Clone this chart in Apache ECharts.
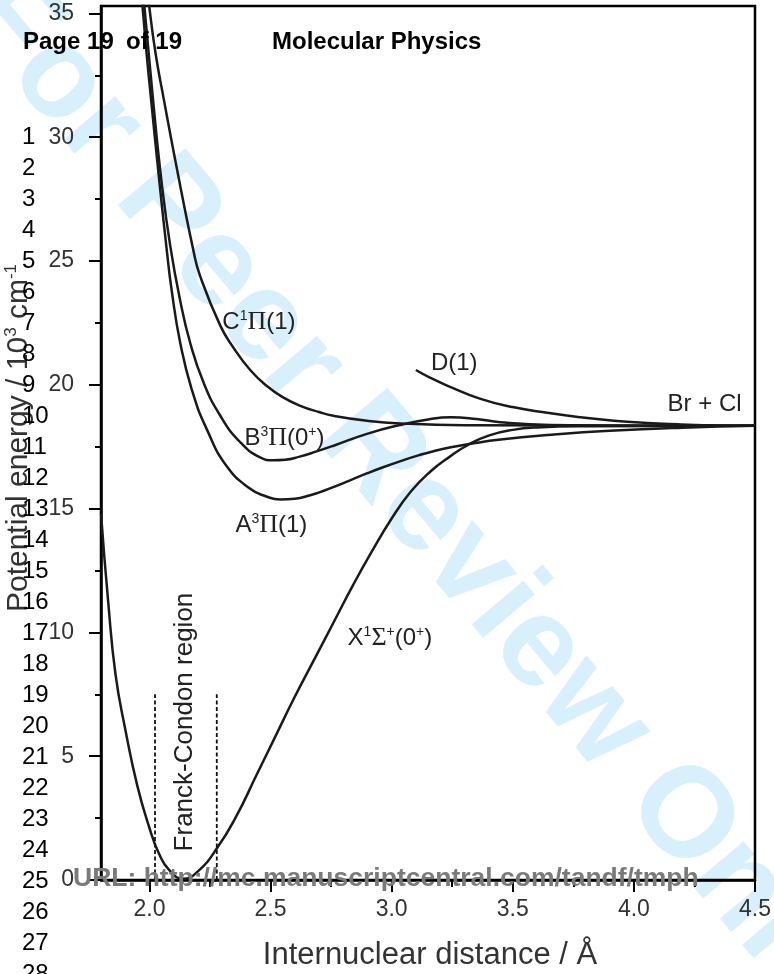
<!DOCTYPE html>
<html><head><meta charset="utf-8">
<script src="https://cdn.jsdelivr.net/npm/echarts@6/dist/echarts.min.js"></script>
<style>html,body{margin:0;padding:0;background:#fff}#c{width:774px;height:974px}</style>
</head><body><div id="c"></div>
<script>
// ---- axis ticks ----
const xTickValues = [2.0, 2.5, 3.0, 3.5, 4.0, 4.5];
const xMinorValues = [2.25, 2.75, 3.25, 3.75, 4.25];
const yTickValues = [0, 5, 10, 15, 20, 25, 30, 35];
const yMinorValues = [2.5, 7.5, 12.5, 17.5, 22.5, 27.5, 32.5];

// ---- potential curves (r in Angstrom, E in 10^3 cm^-1) ----
const xStateR = [1.800, 1.830, 1.860, 1.900, 1.950, 2.000, 2.040, 2.080, 2.140, 2.200, 2.280, 2.360, 2.440, 2.520, 2.600, 2.680, 2.760, 2.840, 2.920, 3.000, 3.080, 3.160, 3.240, 3.320, 3.400, 3.500, 3.600, 3.800, 4.500];
const xStateE = [14.8, 11.2, 8.3, 6.1, 3.8, 2.1, 1.05, 0.42, 0.05, 0.35, 1.3, 2.6, 4.2, 5.8, 7.4, 8.9, 10.4, 11.9, 13.3, 14.6, 15.7, 16.5, 17.1, 17.6, 17.95, 18.18, 18.28, 18.33, 18.35];

const aStateR = [1.960, 1.971, 1.988, 2.006, 2.040, 2.072, 2.092, 2.127, 2.175, 2.237, 2.320, 2.416, 2.480, 2.540, 2.600, 2.660, 2.720, 2.780, 2.840, 2.900, 2.970, 3.040, 3.110, 3.180, 3.250, 3.320, 3.450, 3.660, 3.900, 4.200, 4.500];
const aStateE = [36.3, 35.3, 33.4, 31.6, 28.3, 25.4, 23.8, 21.7, 19.8, 18.2, 16.7, 15.8, 15.5, 15.37, 15.4, 15.53, 15.72, 15.95, 16.19, 16.43, 16.69, 16.93, 17.15, 17.34, 17.49, 17.61, 17.79, 17.98, 18.14, 18.27, 18.35];

const bStateR = [1.968, 1.979, 2.014, 2.050, 2.086, 2.127, 2.168, 2.223, 2.292, 2.375, 2.457, 2.512, 2.560, 2.620, 2.690, 2.760, 2.898, 3.036, 3.150, 3.243, 3.350, 3.449, 3.656, 4.000, 4.500];
const bStateE = [36.3, 35.3, 31.6, 28.2, 25.6, 23.4, 21.7, 20.1, 18.76, 17.68, 17.07, 16.95, 16.97, 17.1, 17.31, 17.54, 18.02, 18.38, 18.6, 18.69, 18.62, 18.49, 18.38, 18.35, 18.35];

const cStateR = [1.990, 1.999, 2.025, 2.058, 2.110, 2.182, 2.209, 2.292, 2.347, 2.416, 2.485, 2.550, 2.623, 2.700, 2.760, 2.898, 3.036, 3.300, 4.500];
const cStateE = [36.2, 35.3, 33.4, 31.6, 28.9, 25.4, 24.4, 22.4, 21.5, 20.6, 19.95, 19.5, 19.15, 18.9, 18.75, 18.55, 18.44, 18.37, 18.35];

const dStateR = [3.100, 3.160, 3.229, 3.367, 3.505, 3.642, 3.780, 3.918, 4.056, 4.194, 4.350, 4.500];
const dStateE = [20.6, 20.28, 19.97, 19.43, 19.09, 18.87, 18.69, 18.55, 18.46, 18.40, 18.36, 18.35];

// Franck-Condon region boundaries
const fcR = [2.023, 2.278];
const fcE = [0, 7.5];

// ---- texts ----
const stateLabelTexts = [
  '{n|C}{s|1}{g|Π}{n|(1)}',
  '{n|B}{s|3}{g|Π}{n|(0}{s|+}{n|)}',
  '{n|A}{s|3}{g|Π}{n|(1)}',
  '{n|D(1)}',
  '{n|Br + Cl}',
  '{n|X}{s|1}{g|Σ}{s|+}{n|(0}{s|+}{n|)}'
];
const stateLabelAt = [[2.301, 22.53], [2.392, 17.84], [2.355, 14.33], [3.162, 20.87], [4.139, 19.22], [2.818, 9.77]];
const fcLabelText = 'Franck-Condon region';
const fcLabelAt = [2.148, 6.38];
const lineNumbers = [1,2,3,4,5,6,7,8,9,10,11,12,13,14,15,16,17,18,19,20,21,22,23,24,25,26,27,28];

const FONT = '"Liberation Sans", Arial, Helvetica, sans-serif';
const SERIF = '"Liberation Serif", "Times New Roman", serif';
const chart = echarts.init(document.getElementById('c'));

function pairs(r, e) { return r.map((v, i) => [v, e[i]]); }
const curveStyle = { color: '#1a1a1a', width: 2.5 };
function curve(name, r, e) {
  return { name, type: 'line', data: pairs(r, e), showSymbol: false, symbol: 'none',
    smooth: 0.5, lineStyle: curveStyle, clip: true, silent: true, z: 3 };
}
function fcLine(r) {
  return { type: 'line', data: [[r, fcE[0]], [r, fcE[1]]], showSymbol: false, symbol: 'none',
    lineStyle: { color: '#111', width: 1.8, type: [4, 2.5] }, silent: true, z: 3 };
}

const axisLabelStyle = { fontSize: 23, fontFamily: FONT, color: '#333' };
const gridRect = { left: 101, right: 19, top: 6, bottom: 94 };

chart.setOption({
  animation: false,
  grid: [
    Object.assign({ show: true, borderColor: '#000', borderWidth: 2.5, backgroundColor: 'transparent' }, gridRect),
    Object.assign({ show: false }, gridRect)
  ],
  xAxis: [
    { type: 'value', gridIndex: 0, min: 1.8, max: 4.5,
      axisLine: { lineStyle: { color: '#000', width: 2.5 } },
      axisTick: { customValues: xTickValues, length: 12, lineStyle: { color: '#000', width: 2 } },
      axisLabel: Object.assign({ customValues: xTickValues, formatter: v => v.toFixed(1), margin: 18 }, axisLabelStyle),
      splitLine: { show: false } },
    { type: 'value', gridIndex: 1, min: 1.8, max: 4.5, position: 'bottom',
      axisLine: { show: false },
      axisTick: { customValues: xMinorValues, length: 7, lineStyle: { color: '#000', width: 2 } },
      axisLabel: { show: false }, splitLine: { show: false } }
  ],
  yAxis: [
    { type: 'value', gridIndex: 0, min: 0, max: 35.3,
      axisLine: { show: true, lineStyle: { color: '#000', width: 2.5 } },
      axisTick: { show: true, customValues: yTickValues, length: 12, lineStyle: { color: '#000', width: 2 } },
      axisLabel: Object.assign({ customValues: yTickValues, margin: 27 }, axisLabelStyle),
      splitLine: { show: false } },
    { type: 'value', gridIndex: 1, min: 0, max: 35.3, position: 'left',
      axisLine: { show: false },
      axisTick: { show: true, customValues: yMinorValues, length: 6, lineStyle: { color: '#000', width: 2 } },
      axisLabel: { show: false }, splitLine: { show: false } }
  ],
  series: [
    curve('X', xStateR, xStateE),
    curve('A', aStateR, aStateE),
    curve('B', bStateR, bStateE),
    curve('C', cStateR, cStateE),
    curve('D', dStateR, dStateE),
    fcLine(fcR[0]),
    fcLine(fcR[1])
  ]
});

// ---- annotations ----
const rich = {
  n: { fontSize: 24, fontFamily: FONT, lineHeight: 26, fill: '#222' },
  g: { fontSize: 26, fontFamily: SERIF, lineHeight: 26, fill: '#222' },
  s: { fontSize: 14, fontFamily: FONT, lineHeight: 12, verticalAlign: 'top', fill: '#222' }
};
const graphics = [];
// watermark
graphics.push({ type: 'text', x: 408, y: 494, rotation: -0.87, z: -10, silent: true,
  style: { text: 'For Peer Review Only', fontSize: 128, fontWeight: 'bold', fontFamily: FONT,
    fill: '#d7f0fc', align: 'center', verticalAlign: 'middle' } });
// state labels
stateLabelTexts.forEach((t, i) => {
  const p = chart.convertToPixel({ gridIndex: 0 }, stateLabelAt[i]);
  graphics.push({ type: 'text', x: p[0], y: p[1], z: 50, silent: true,
    style: { text: t, rich, align: 'left', verticalAlign: 'middle' } });
});
const fp = chart.convertToPixel({ gridIndex: 0 }, fcLabelAt);
graphics.push({ type: 'text', x: fp[0], y: fp[1], rotation: Math.PI / 2, z: 50, silent: true,
  style: { text: fcLabelText, fontSize: 26, fontFamily: FONT, fill: '#222', align: 'center', verticalAlign: 'middle' } });
// axis titles
graphics.push({ type: 'text', x: 430, y: 955, z: 50, silent: true,
  style: { text: 'Internuclear distance / Å', fontSize: 31, fontFamily: FONT, fill: '#333', align: 'center', verticalAlign: 'middle' } });
graphics.push({ type: 'text', x: 19, y: 438, rotation: Math.PI / 2, z: 50, silent: true,
  style: { text: '{t|Potential energy / 10}{u|3}{t| cm}{u|-1}', align: 'center', verticalAlign: 'middle',
    rich: { t: { fontSize: 30, fontFamily: FONT, lineHeight: 32, fill: '#333' },
            u: { fontSize: 17, fontFamily: FONT, lineHeight: 15, verticalAlign: 'top', fill: '#333' } } } });
// line numbers
lineNumbers.forEach((n, i) => {
  graphics.push({ type: 'text', x: 22, y: 137 + i * 31, z: 60, silent: true,
    style: { text: String(n), fontSize: 24, fontFamily: FONT, fill: '#000', align: 'left', verticalAlign: 'middle' } });
});
// header
const headStyle = { fontSize: 24, fontWeight: 'bold', fontFamily: FONT, fill: '#000', align: 'left', verticalAlign: 'middle' };
graphics.push({ type: 'text', x: 23, y: 42, z: 60, silent: true, style: Object.assign({ text: 'Page 19' }, headStyle) });
graphics.push({ type: 'text', x: 126, y: 42, z: 60, silent: true, style: Object.assign({ text: 'of 19' }, headStyle) });
graphics.push({ type: 'text', x: 272, y: 42, z: 60, silent: true, style: Object.assign({ text: 'Molecular Physics' }, headStyle) });
// footer URL
graphics.push({ type: 'text', x: 73, y: 879, z: 60, silent: true,
  style: { text: 'URL: http://mc.manuscriptcentral.com/tandf/tmph', fontSize: 26.5, fontWeight: 'bold', fontFamily: FONT,
    fill: '#7a7a7a', align: 'left', verticalAlign: 'middle' } });

chart.setOption({ graphic: { elements: graphics } });
</script>
</body></html>
